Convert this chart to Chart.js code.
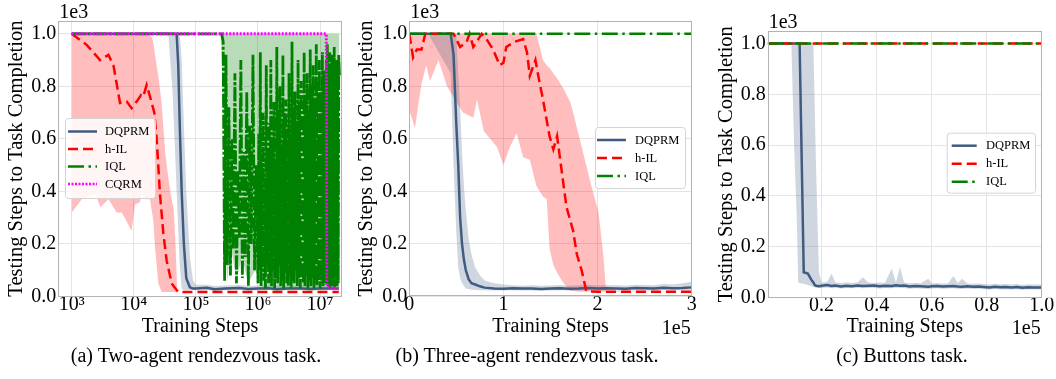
<!DOCTYPE html>
<html>
<head>
<meta charset="utf-8">
<script src="https://cdn.jsdelivr.net/npm/chart.js@4"></script>
<style>
body{margin:0;background:#fff;width:1056px;height:379px;position:relative;overflow:hidden;font-family:"Liberation Serif","Times New Roman",serif}
canvas{position:absolute;top:0}
.cap{position:absolute;top:343px;font-size:20px;line-height:24px;white-space:nowrap;transform:translateX(-50%);color:#000}
</style>
</head>
<body>
<canvas id="ca" width="350" height="345" style="left:0"></canvas>
<canvas id="cb" width="350" height="345" style="left:350px"></canvas>
<canvas id="cc" width="356" height="345" style="left:700px"></canvas>
<div class="cap" style="left:196px">(a) Two-agent rendezvous task.</div>
<div class="cap" style="left:527px">(b) Three-agent rendezvous task.</div>
<div class="cap" style="left:902px">(c) Buttons task.</div>
<script>
// ---- shared ticks ----
const yTicks = [0, 0.2, 0.4, 0.6, 0.8, 1.0];
const yTickLabels = ['0.0', '0.2', '0.4', '0.6', '0.8', '1.0'];
const xTicksA = [1e3, 1e4, 1e5, 1e6, 1e7];
const xLabelsA = ['10³', '10⁴', '10⁵', '10⁶', '10⁷'];
const xTicksB = [0, 1, 2, 3];
const xLabelsB = ['0', '1', '2', '3'];
const xTicksC = [0.2, 0.4, 0.6, 0.8, 1.0];
const xLabelsC = ['0.2', '0.4', '0.6', '0.8', '1.0'];

// ---- (a) two-agent rendezvous, x = training steps (log), y in 1e3 ----
const dqX_a = [1e3, 3.6e4, 4.2e4, 4.6e4, 4.9e4, 5.2e4, 5.5e4, 5.9e4, 6.4e4, 7.0e4, 8.0e4, 9.0e4, 1e5, 1.5e5, 2e5, 3e5, 5e5, 7e5, 1e6, 1.5e6, 2e6, 3e6, 5e6, 7e6, 1e7, 1.3e7, 2e7];
const dqY_a = [1, 1, 1, 1, 1, 0.88, 0.65, 0.4, 0.2, 0.07, 0.035, 0.03, 0.03, 0.033, 0.028, 0.03, 0.032, 0.029, 0.03, 0.031, 0.028, 0.03, 0.03, 0.029, 0.03, 0.03, 0.03];
const dqLo_a = [1, 1, 0.78, 0.56, 0.4, 0.25, 0.12, 0.03, 0.025, 0.025, 0.025, 0.025, 0.024, 0.024, 0.022, 0.024, 0.025, 0.023, 0.024, 0.025, 0.022, 0.024, 0.024, 0.023, 0.024, 0.024, 0.024];
const dqHi_a = [1, 1, 1, 1, 1, 1, 1, 0.9, 0.65, 0.4, 0.15, 0.06, 0.045, 0.045, 0.04, 0.042, 0.044, 0.04, 0.042, 0.043, 0.04, 0.042, 0.041, 0.04, 0.042, 0.04, 0.04];

const hilX_a = [1e3, 1.74e3, 2.86e3, 3.9e3, 4.7e3, 6e3, 7.7e3, 9.2e3, 1.11e4, 1.31e4, 1.42e4, 1.61e4, 1.83e4, 2.14e4, 2.34e4, 2.64e4, 2.99e4, 3.38e4, 4.07e4, 5.2e4, 1e6, 2e7];
const hilY_a = [1.0, 0.958, 0.9, 0.92, 0.88, 0.737, 0.742, 0.717, 0.742, 0.767, 0.761, 0.805, 0.76, 0.7, 0.595, 0.39, 0.24, 0.137, 0.05, 0.017, 0.017, 0.017];
const hilBX_a = [1e3, 1.45e3, 2.4e3, 2.9e3, 3.9e3, 5.3e3, 6.4e3, 9.2e3, 1.05e4, 1.26e4, 1.34e4, 1.51e4, 1.82e4, 2.06e4, 2.19e4, 2.48e4, 2.8e4, 3.2e4, 3.6e4, 4.0e4, 4.4e4, 4.7e4, 5.0e4];
const hilLo_a = [0.32, 0.37, 0.39, 0.34, 0.37, 0.32, 0.32, 0.25, 0.35, 0.36, 0.39, 0.37, 0.37, 0.29, 0.19, 0.05, 0.017, 0.017, 0.017, 0.017, 0.017, 0.017, 0.017];
const hilHi_a = [1, 1, 1, 1, 1, 1, 1, 1, 1, 1, 1, 1, 1, 0.97, 0.92, 0.84, 0.74, 0.55, 0.45, 0.38, 0.33, 0.2, 0.017];

const iqlX_a = [1e3, 2.5e5,
  2.6e5, 2.75e5, 2.9e5, 3.05e5, 3.2e5, 3.4e5, 3.6e5, 3.8e5, 4.0e5, 4.25e5, 4.5e5, 4.75e5,
  5.0e5, 5.3e5, 5.6e5, 5.9e5, 6.2e5, 6.6e5, 7.0e5, 7.4e5, 7.8e5, 8.3e5, 8.8e5, 9.4e5,
  1.00e6, 1.03e6, 1.06e6, 1.09e6, 1.12e6, 1.15e6, 1.18e6, 1.21e6, 1.25e6, 1.28e6,
  1.32e6, 1.36e6, 1.40e6, 1.44e6, 1.48e6, 1.52e6, 1.56e6, 1.61e6, 1.65e6, 1.70e6,
  1.75e6, 1.80e6, 1.85e6, 1.90e6, 1.96e6, 2.01e6, 2.07e6, 2.13e6, 2.19e6, 2.25e6,
  2.32e6, 2.38e6, 2.45e6, 2.52e6, 2.59e6, 2.67e6, 2.74e6, 2.82e6, 2.90e6, 2.98e6,
  3.07e6, 3.16e6, 3.25e6, 3.34e6, 3.43e6, 3.53e6, 3.63e6, 3.74e6, 3.84e6, 3.95e6,
  4.06e6, 4.18e6, 4.30e6, 4.42e6, 4.55e6, 4.68e6, 4.81e6, 4.95e6, 5.09e6, 5.24e6,
  5.39e6, 5.54e6, 5.70e6, 5.86e6, 6.03e6, 6.20e6, 6.38e6, 6.56e6, 6.75e6, 6.94e6,
  7.14e6, 7.34e6, 7.55e6, 7.77e6, 7.99e6, 8.22e6, 8.45e6, 8.69e6, 8.94e6, 9.20e6,
  9.46e6, 9.73e6, 1.00e7, 1.03e7, 1.06e7, 1.09e7, 1.12e7, 1.15e7, 1.19e7,
  1.26e7, 1.29e7, 1.31e7, 1.34e7, 1.37e7, 1.40e7, 1.43e7, 1.46e7, 1.49e7, 1.52e7, 1.55e7, 1.58e7,
  1.62e7, 1.65e7, 1.69e7, 1.72e7, 1.76e7, 1.80e7, 1.84e7, 1.88e7, 1.92e7, 1.96e7, 2.00e7, 2.05e7];
const iqlY_a = [1, 1,
  1.0, 0.97, 0.06, 0.92, 0.12, 0.72, 0.08, 0.6, 0.18, 0.85, 0.05, 0.48,
  0.22, 0.9, 0.07, 0.55, 0.15, 0.78, 0.04, 0.65, 0.2, 0.92, 0.1, 0.5,
  0.05, 0.62, 0.1, 0.93, 0.04, 0.5, 0.15, 0.7, 0.06, 0.45,
  0.03, 0.88, 0.12, 0.55, 0.05, 0.66, 0.08, 0.9, 0.04, 0.6,
  0.1, 0.74, 0.03, 0.52, 0.07, 0.95, 0.05, 0.68, 0.12, 0.8,
  0.04, 0.57, 0.06, 0.92, 0.03, 0.7, 0.09, 0.75, 0.05, 0.64,
  0.04, 0.85, 0.08, 0.62, 0.03, 0.97, 0.06, 0.72, 0.05, 0.78,
  0.1, 0.66, 0.04, 0.9, 0.07, 0.74, 0.03, 0.82, 0.06, 0.7,
  0.05, 0.93, 0.04, 0.76, 0.08, 0.85, 0.03, 0.68, 0.06, 0.94,
  0.04, 0.8, 0.07, 0.88, 0.03, 0.75, 0.05, 0.96, 0.04, 0.82,
  0.06, 0.9, 0.03, 0.78, 0.05, 0.93, 0.04, 0.86, 0.05,
  0.9, 0.05, 0.96, 0.04, 0.88, 0.06, 0.93, 0.03, 0.85, 0.05, 0.92, 0.04,
  0.84, 0.06, 0.95, 0.03, 0.88, 0.05, 0.9, 0.04, 0.86, 0.05, 0.92, 0.84];
const iqlBX_a = [1e3, 2.5e5, 2.6e5, 3.2e5, 3.6e5, 4.5e5, 5.5e5, 7e5, 9e5, 1.1e6, 1.5e6, 2.05e7];
const iqlLo_a = [1, 1, 0.9, 0.05, 0.2, 0.06, 0.15, 0.05, 0.1, 0.04, 0.03, 0.03];
const iqlHi_a = [1, 1, 1, 1, 1, 1, 1, 1, 1, 1, 1, 1];

const cqX_a = [1e3, 1.26e7, 1.28e7, 1.4e7, 2e7];
const cqY_a = [1, 1, 0.04, 0.033, 0.03];

// ---- (b) three-agent rendezvous, x in 1e5 steps ----
const dqX_b = [0, 0.2, 0.44, 0.47, 0.5, 0.52, 0.54, 0.56, 0.58, 0.6, 0.63, 0.66, 0.7, 0.75, 0.8, 0.9, 1.0, 1.1, 1.2, 1.3, 1.4, 1.5, 1.6, 1.7, 1.8, 1.9, 2.0, 2.1, 2.2, 2.3, 2.4, 2.5, 2.6, 2.7, 2.8, 2.9, 3.0];
const dqY_b = [1, 1, 1, 0.92, 0.65, 0.5, 0.3, 0.2, 0.14, 0.1, 0.065, 0.05, 0.045, 0.038, 0.033, 0.03, 0.029, 0.031, 0.03, 0.03, 0.028, 0.03, 0.031, 0.029, 0.03, 0.032, 0.03, 0.031, 0.03, 0.029, 0.032, 0.031, 0.03, 0.033, 0.031, 0.032, 0.034];
const dqLo_b = [1, 1, 0.85, 0.5, 0.24, 0.11, 0.07, 0.05, 0.04, 0.03, 0.028, 0.025, 0.024, 0.023, 0.023, 0.022, 0.022, 0.023, 0.022, 0.022, 0.021, 0.022, 0.023, 0.022, 0.022, 0.023, 0.022, 0.023, 0.022, 0.021, 0.023, 0.022, 0.022, 0.023, 0.022, 0.023, 0.024];
const dqHi_b = [1, 1, 1, 1, 1, 0.85, 0.72, 0.55, 0.42, 0.33, 0.22, 0.16, 0.11, 0.08, 0.06, 0.05, 0.045, 0.042, 0.04, 0.042, 0.04, 0.041, 0.043, 0.04, 0.042, 0.044, 0.041, 0.043, 0.042, 0.04, 0.044, 0.043, 0.042, 0.047, 0.045, 0.05, 0.055];

const hilX_b = [0, 0.04, 0.08, 0.13, 0.17, 0.47, 0.54, 0.61, 0.64, 0.68, 0.77, 0.82, 0.89, 0.96, 1.0, 1.03, 1.12, 1.21, 1.25, 1.28, 1.34, 1.37, 1.42, 1.49, 1.53, 1.57, 1.64, 1.67, 1.74, 1.78, 1.83, 1.88, 2.0, 2.5, 3.0];
const hilY_b = [1.0, 0.91, 0.94, 0.94, 1.0, 1.0, 0.95, 0.97, 1.0, 0.95, 1.0, 0.98, 0.94, 0.88, 0.89, 0.95, 0.97, 0.98, 0.93, 0.84, 0.9, 0.84, 0.75, 0.61, 0.56, 0.61, 0.42, 0.34, 0.25, 0.16, 0.1, 0.02, 0.017, 0.017, 0.017];
const hilBX_b = [0, 0.06, 0.1, 0.13, 0.18, 0.22, 0.31, 0.4, 0.5, 0.57, 0.68, 0.72, 0.79, 0.93, 1.0, 1.07, 1.14, 1.21, 1.28, 1.35, 1.42, 1.46, 1.49, 1.53, 1.57, 1.64, 1.71, 1.74, 1.81, 1.92, 2.01, 2.06, 2.09, 3.0];
const hilLo_b = [0.71, 0.64, 0.74, 0.81, 0.88, 0.82, 0.9, 0.8, 0.74, 0.7, 0.68, 0.75, 0.63, 0.57, 0.5, 0.57, 0.62, 0.53, 0.52, 0.42, 0.38, 0.37, 0.18, 0.12, 0.09, 0.05, 0.02, 0.02, 0.017, 0.017, 0.017, 0.017, 0.017, 0.017];
const hilHi_b = [1, 1, 1, 1, 1, 1, 1, 1, 1, 1, 1, 1, 1, 1, 1, 1, 1, 1, 1, 1, 0.9, 0.88, 0.87, 0.85, 0.83, 0.79, 0.74, 0.7, 0.6, 0.44, 0.32, 0.16, 0.02, 0.017];

const iqlX_b = [0, 3];
const iqlY_b = [1, 1];

// ---- (c) buttons, x in 1e5 steps ----
const dqX_c = [0.004, 0.09, 0.1, 0.11, 0.115, 0.12, 0.135, 0.15, 0.163, 0.17, 0.175, 0.18, 0.19, 0.2, 0.22, 0.236, 0.25, 0.27, 0.29, 0.31, 0.33, 0.35, 0.37, 0.39, 0.41, 0.43, 0.455, 0.47, 0.485, 0.5, 0.52, 0.54, 0.56, 0.588, 0.6, 0.62, 0.64, 0.66, 0.679, 0.695, 0.71, 0.73, 0.75, 0.77, 0.79, 0.81, 0.83, 0.85, 0.87, 0.89, 0.91, 0.93, 0.95, 0.97, 1.0];
const dqY_c = [1, 1, 1, 1, 1, 1, 0.1, 0.095, 0.07, 0.06, 0.05, 0.047, 0.045, 0.047, 0.05, 0.046, 0.048, 0.044, 0.047, 0.045, 0.048, 0.046, 0.047, 0.048, 0.045, 0.047, 0.046, 0.049, 0.047, 0.048, 0.044, 0.046, 0.045, 0.043, 0.045, 0.046, 0.044, 0.045, 0.046, 0.044, 0.043, 0.045, 0.043, 0.044, 0.042, 0.04, 0.043, 0.041, 0.042, 0.04, 0.042, 0.039, 0.041, 0.04, 0.04];
const dqLo_c = [1, 1, 0.6, 0.3, 0.06, 0.058, 0.055, 0.05, 0.045, 0.042, 0.04, 0.04, 0.038, 0.038, 0.04, 0.037, 0.039, 0.036, 0.038, 0.037, 0.039, 0.037, 0.038, 0.039, 0.036, 0.038, 0.037, 0.039, 0.038, 0.038, 0.035, 0.037, 0.036, 0.034, 0.036, 0.037, 0.035, 0.036, 0.037, 0.035, 0.034, 0.036, 0.034, 0.035, 0.033, 0.032, 0.034, 0.032, 0.033, 0.032, 0.033, 0.031, 0.032, 0.032, 0.032];
const dqHi_c = [1, 1, 1, 1, 1, 1, 1, 1, 1, 1, 0.75, 0.5, 0.1, 0.06, 0.062, 0.095, 0.06, 0.058, 0.06, 0.058, 0.06, 0.08, 0.06, 0.058, 0.06, 0.058, 0.115, 0.06, 0.12, 0.06, 0.057, 0.058, 0.057, 0.075, 0.057, 0.058, 0.056, 0.057, 0.085, 0.058, 0.075, 0.056, 0.055, 0.056, 0.054, 0.052, 0.055, 0.053, 0.054, 0.052, 0.054, 0.05, 0.053, 0.052, 0.052];
const flatX_c = [0.004, 1.0];
const hilY_c = [1, 1];
const iqlY_c = [1, 1];

// ---- styling ----
const FONT = '"Liberation Serif", "Times New Roman", serif';
const C_DQ = '#3f5b80', C_HIL = '#ff0000', C_IQL = '#008000', C_CQ = '#ff00ff';
const B_DQ = 'rgba(63,91,128,0.25)', B_HIL = 'rgba(255,0,0,0.26)', B_IQL = 'rgba(0,128,0,0.28)';
const D_HIL = [10, 5], D_IQL = [16, 4.5, 2.5, 4.5], D_CQ = [2, 1.5];
const D_IQL_DENSE = [14, 2, 3, 2];

function pts(xs, ys) { return xs.map((x, i) => ({x: x, y: ys[i]})); }
function line(label, xs, ys, color, dash, width, order, legendDash) {
  return {label: label, legend: true, legendDash: legendDash || dash, data: pts(xs, ys), borderColor: color, backgroundColor: color,
    borderDash: dash, borderWidth: width, pointRadius: 0, showLine: true, fill: false, order: order, tension: 0};
}
function band(xs, lo, hi, color) {
  return [
    {label: '', data: pts(xs, hi), borderWidth: 0, borderColor: 'transparent', pointRadius: 0, showLine: true, fill: '+1', backgroundColor: color, order: 20},
    {label: '', data: pts(xs, lo), borderWidth: 0, borderColor: 'transparent', pointRadius: 0, showLine: true, fill: false, backgroundColor: color, order: 20}
  ];
}

function yAxis(w, tpad) {
  return {
    min: 0, max: 1.05,
    afterBuildTicks: s => { s.ticks = yTicks.map(v => ({value: v})); },
    afterFit: s => { s.width = w; s.paddingTop = 0; s.paddingBottom = 0; },
    ticks: {padding: 2, color: '#000', font: {family: FONT, size: 20}, callback: (v, i) => yTickLabels[i]},
    grid: {color: '#e4e4e4', drawTicks: false},
    border: {display: false},
    title: {display: true, text: 'Testing Steps to Task Completion', color: '#000',
      font: {family: FONT, size: 20.5}, padding: {top: tpad, bottom: 0}}
  };
}
function xAxis(type, min, max, ticks, labels, h) {
  return {
    type: type, min: min, max: max, position: 'bottom',
    afterBuildTicks: s => { s.ticks = ticks.map(v => ({value: v})); },
    afterFit: s => { s.height = h; s.paddingLeft = 0; s.paddingRight = 0; },
    ticks: {autoSkip: false, maxRotation: 0, padding: 0, color: '#000',
      font: {family: FONT, size: 20, lineHeight: 0.8}, callback: (v, i) => labels[i]},
    grid: {color: '#e4e4e4', drawTicks: false},
    border: {display: false},
    title: {display: true, text: 'Training Steps', color: '#000',
      font: {family: FONT, size: 20}, padding: {top: 0, bottom: 6.7}}
  };
}

// frame, offset texts ("1e3", "1e5") and in-axes legend
const decor = {
  id: 'decor',
  afterDraw(chart, args, o) {
    const ctx = chart.ctx, a = chart.chartArea;
    ctx.save();
    ctx.strokeStyle = '#b3b3b3'; ctx.lineWidth = 1;
    ctx.strokeRect(Math.round(a.left) + 0.5, Math.round(a.top) + 0.5,
      Math.round(a.right) - Math.round(a.left) - 1, Math.round(a.bottom) - Math.round(a.top) - 1);
    ctx.fillStyle = '#000';
    ctx.font = '20px ' + FONT;
    ctx.textBaseline = 'alphabetic';
    if (o.yOff) { ctx.textAlign = 'left'; ctx.fillText(o.yOff, a.left + 1, a.top - 3); }
    if (o.xOff) { ctx.textAlign = 'right'; ctx.fillText(o.xOff, a.right - 1, 334); }
    const L = o.legend;
    ctx.fillStyle = 'rgba(255,255,255,0.85)';
    ctx.strokeStyle = '#d4d4d4';
    ctx.beginPath();
    ctx.roundRect(L.x + 0.5, L.y + 0.5, L.w, L.h, 3);
    ctx.fill(); ctx.stroke();
    ctx.font = '12.5px ' + FONT;
    ctx.textAlign = 'left'; ctx.textBaseline = 'middle';
    chart.data.datasets.filter(d => d.legend).forEach((d, i) => {
      const y = L.row + i * L.step;
      ctx.strokeStyle = d.borderColor; ctx.lineWidth = 2.5;
      ctx.setLineDash(d.legendDash || []);
      ctx.beginPath(); ctx.moveTo(L.sx, y); ctx.lineTo(L.sx + L.sw, y); ctx.stroke();
      ctx.setLineDash([]);
      ctx.fillStyle = '#000';
      ctx.fillText(d.label, L.tx, y + 0.5);
    });
    ctx.restore();
  }
};

function make(id, datasets, x, y, pad, deco) {
  return new Chart(document.getElementById(id), {
    type: 'scatter',
    data: {datasets: datasets},
    options: {
      responsive: false, animation: false, devicePixelRatio: 1,
      layout: {padding: pad},
      plugins: {legend: {display: false}, tooltip: {enabled: false}, decor: deco},
      scales: {x: x, y: y}
    },
    plugins: [decor]
  });
}

make('ca', [
    line('DQPRM', dqX_a, dqY_a, C_DQ, [], 2.5, 4),
    line('h-IL', hilX_a, hilY_a, C_HIL, D_HIL, 2.5, 3),
    line('IQL', iqlX_a, iqlY_a, C_IQL, D_IQL_DENSE, 2.8, 2, D_IQL),
    line('CQRM', cqX_a, cqY_a, C_CQ, D_CQ, 3, 1),
    ...band(dqX_a, dqLo_a, dqHi_a, B_DQ),
    ...band(hilBX_a, hilLo_a, hilHi_a, B_HIL),
    ...band(iqlBX_a, iqlLo_a, iqlHi_a, B_IQL)
  ],
  xAxis('logarithmic', 608, 2.23e7, xTicksA, xLabelsA, 48.5),
  yAxis(58.3, 4.5),
  {left: 0, top: 20.7, right: 8.3, bottom: 0},
  {yOff: '1e3', legend: {x: 65, y: 118, w: 90, h: 80, row: 131.5, step: 17.5, sx: 68, sw: 29, tx: 105}});

make('cb', [
    line('DQPRM', dqX_b, dqY_b, C_DQ, [], 2.5, 3),
    line('h-IL', hilX_b, hilY_b, C_HIL, D_HIL, 2.5, 2),
    line('IQL', iqlX_b, iqlY_b, C_IQL, D_IQL, 2.5, 1),
    ...band(dqX_b, dqLo_b, dqHi_b, B_DQ),
    ...band(hilBX_b, hilLo_b, hilHi_b, B_HIL)
  ],
  xAxis('linear', 0, 3, xTicksB, xLabelsB, 48.7),
  yAxis(59.3, 4.5),
  {left: 0, top: 20.7, right: 8.3, bottom: 0},
  {yOff: '1e3', xOff: '1e5', legend: {x: 245, y: 127, w: 90, h: 61, row: 140, step: 18, sx: 247, sw: 29, tx: 285}});

make('cc', [
    line('DQPRM', dqX_c, dqY_c, C_DQ, [], 2.5, 3),
    line('h-IL', flatX_c, hilY_c, C_HIL, D_HIL, 2.5, 2),
    line('IQL', flatX_c, iqlY_c, C_IQL, D_IQL, 2.5, 1),
    ...band(dqX_c, dqLo_c, dqHi_c, B_DQ)
  ],
  xAxis('linear', 0.004, 1.0, xTicksC, xLabelsC, 47.3),
  yAxis(67.7, 14.5),
  {left: 0, top: 30.7, right: 14.3, bottom: 0},
  {yOff: '1e3', xOff: '1e5', legend: {x: 246.7, y: 132.7, w: 88.3, h: 60, row: 145.7, step: 18, sx: 251.7, sw: 25, tx: 286}});
</script>
</body>
</html>
